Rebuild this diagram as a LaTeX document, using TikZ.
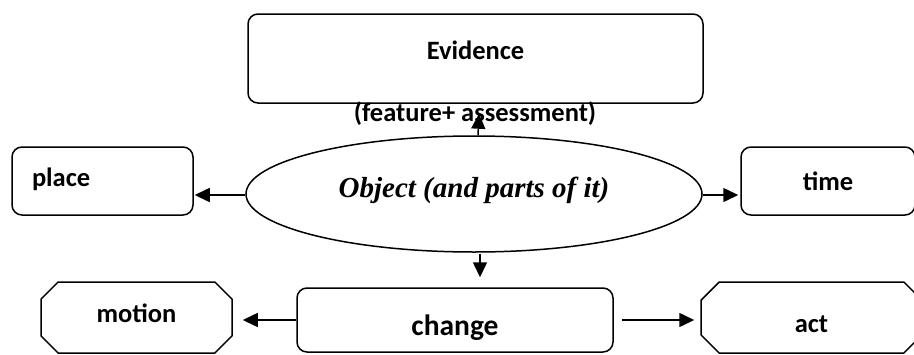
\documentclass[tikz,border=0pt]{standalone}
\usepackage{fontspec}
\setmainfont{Carlito}
\newfontfamily\objfont{Liberation Serif}
\usetikzlibrary{arrows.meta,shapes.misc,shapes.geometric}

\begin{document}
\begin{tikzpicture}[x=1pt,y=-1pt,
    font=\bfseries\fontsize{26.5}{30}\selectfont,
    every path/.style={line width=1.5pt},
    roundbox/.style={draw,rounded corners=10pt,inner sep=0pt},
    octbox/.style={draw,chamfered rectangle,chamfered rectangle xsep=20pt,chamfered rectangle angle=45,inner sep=0pt},
    link/.style={draw,-{Triangle[length=15pt,width=14pt]}}]
    \useasboundingbox (0,0) rectangle (914,354);
    \node[roundbox,minimum width=455pt,minimum height=89pt,text height=18pt,text depth=16pt] (evid) at (475.5,58.5) {Evidence};
    \node (feat) at (475,114) {(feature+ assessment)};
    \node[draw,ellipse,minimum width=456pt,minimum height=116pt,inner sep=0pt,text height=20pt,text depth=13pt,font=\objfont\bfseries\itshape\fontsize{29}{32}\selectfont] (obj) at (474,194) {Object (and parts of it)};
    \node[roundbox,minimum width=181pt,minimum height=68pt,text width=141pt,align=left,text height=20pt,text depth=9pt] (place) at (102.5,181) {place};
    \node[roundbox,minimum width=174pt,minimum height=68pt,text height=20pt,text depth=1pt] (time) at (828,181) {time};
    \node[roundbox,minimum width=316pt,minimum height=64pt,text height=30pt,text depth=0pt,font=\bfseries\fontsize{29.5}{33}\selectfont] (change) at (455,320) {change};
    \node[octbox,minimum width=191pt,minimum height=71pt,text height=19pt,text depth=9pt] (motion) at (136.5,317.5) {motion};
    \node[octbox,minimum width=221pt,minimum height=71pt,text height=30pt,text depth=0pt] (act) at (811.5,317.5) {act};
    \draw[link,shorten >=10pt] ([xshift=4pt]obj.north) -- ([xshift=4pt]evid.south);
    \draw[link,shorten >=1pt] ([yshift=-1pt]obj.west) -- ([yshift=-1pt]obj.west -| place.east);
    \draw[link,shorten >=2pt] ([yshift=-1pt]obj.east) -- ([yshift=-1pt]obj.east -| time.west);
    \draw[link,shorten >=10pt,shorten <=1pt] ([xshift=6pt]obj.south) -- ([xshift=6pt]obj.south |- change.north);
    \draw[link,shorten >=10pt] (change.west) -- (change.west -| motion.east);
    \draw[link,shorten <=8pt,shorten >=6pt] (change.east) -- (change.east -| act.west);
\end{tikzpicture}
\end{document}
